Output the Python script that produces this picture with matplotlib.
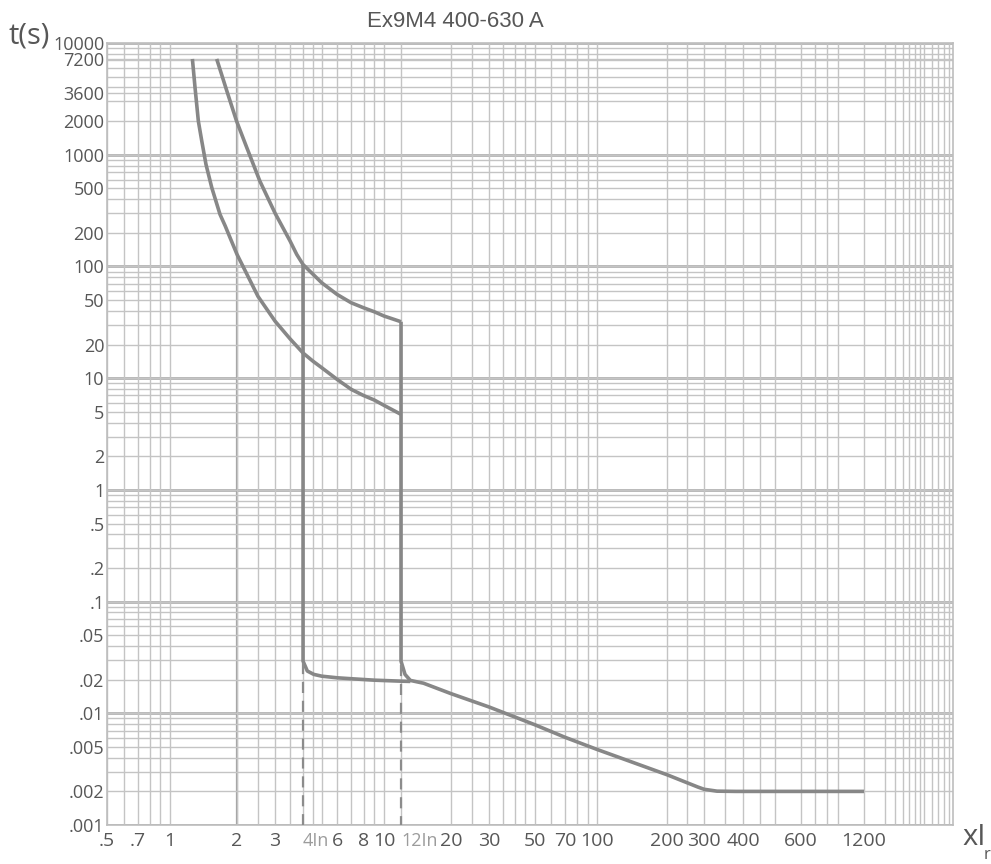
import numpy as np
import matplotlib.pyplot as plt
from matplotlib.ticker import FixedLocator, LogLocator, NullFormatter

# Thermal band, lower (no-trip) curve
lower_x = [1.26, 1.295, 1.34, 1.388, 1.45, 1.54, 1.677, 1.77, 1.86, 2.0, 2.5, 3.0, 3.5, 4.0, 4.5, 5.0, 6.0, 7.0, 8.0, 9.0, 10.0, 12.0]
lower_t = [7200, 3980, 2000, 1330, 820, 507, 292, 230, 181, 128, 54, 32.4, 22.5, 16.8, 14.2, 12.4, 9.76, 7.94, 7.0, 6.37, 5.71, 4.74]

# Thermal band, upper (trip) curve
upper_x = [1.62, 1.80, 1.99, 2.22, 2.55, 3.0, 3.5, 3.75, 4.0, 5.0, 6.0, 7.0, 8.0, 9.0, 10.0, 12.0]
upper_t = [7200, 3714, 2000, 1155, 582, 300, 169, 128, 104, 71.4, 56.2, 47.3, 42.7, 39.3, 36, 32]

# Magnetic trip at 12In, then the instantaneous region
mag12_x = [12.0, 12.0, 12.5, 13.2, 15.1, 20, 30, 50, 70, 100, 200, 280, 300, 330, 380, 1200]
mag12_t = [32, 0.0293, 0.0223, 0.0197, 0.0186, 0.0150, 0.0114, 0.0079, 0.0061, 0.00475, 0.00282,
           0.00219, 0.00209, 0.00201, 0.002, 0.002]

# Magnetic trip at 4In
mag4_x = [4.0, 4.0, 4.21, 4.55, 5.0, 6.0, 7.0, 9.0, 12.0, 13.2]
mag4_t = [104, 0.0293, 0.0239, 0.0223, 0.0215, 0.0208, 0.0204, 0.0198, 0.0194, 0.0193]

# Dashed markers for the magnetic settings
dash_x = [4.0, 12.0]
dash_top = [0.028, 0.027]

x_ticks = [0.5, 0.7, 1, 2, 3, 4, 6, 8, 10, 12, 20, 30, 50, 70, 100, 200, 300, 400, 600, 1200]
x_labels = ['.5', '.7', '1', '2', '3', '4In', '6', '8', '10', '12In', '20', '30', '50', '70',
            '100', '200', '300', '400', '600', '1200']
y_ticks = [10000, 7200, 3600, 2000, 1000, 500, 200, 100, 50, 20, 10, 5, 2, 1,
           0.5, 0.2, 0.1, 0.05, 0.02, 0.01, 0.005, 0.002, 0.001]
y_labels = ['10000', '7200', '3600', '2000', '1000', '500', '200', '100', '50', '20', '10', '5',
            '2', '1', '.5', '.2', '.1', '.05', '.02', '.01', '.005', '.002', '.001']

# the printed current axis is a hand-ruled log paper, not an exact log scale:
# anchor values and their share of the axis width
paper_vals = [0.5, 1, 2, 3, 4, 6, 10, 12, 20, 30, 100, 200, 300, 400, 600, 1200, 10000]
paper_frac = [0, 0.0745, 0.1537, 0.1986, 0.2317, 0.2719, 0.3274, 0.3475, 0.4066, 0.4515,
              0.5792, 0.6619, 0.7057, 0.7518, 0.8203, 0.8948, 1.0]
paper_log = np.log10(paper_vals)
slope_lo = (paper_frac[1] - paper_frac[0]) / (paper_log[1] - paper_log[0])
slope_hi = (paper_frac[-1] - paper_frac[-2]) / (paper_log[-1] - paper_log[-2])


def paper_fwd(x):
    lx = np.log10(np.clip(np.asarray(x, dtype=float), 1e-12, None))
    y = np.interp(lx, paper_log, paper_frac)
    y = np.where(lx < paper_log[0], paper_frac[0] + (lx - paper_log[0]) * slope_lo, y)
    y = np.where(lx > paper_log[-1], paper_frac[-1] + (lx - paper_log[-1]) * slope_hi, y)
    return y


def paper_inv(y):
    y = np.asarray(y, dtype=float)
    lx = np.interp(y, paper_frac, paper_log)
    lx = np.where(y < paper_frac[0], paper_log[0] + (y - paper_frac[0]) / slope_lo, lx)
    lx = np.where(y > paper_frac[-1], paper_log[-1] + (y - paper_frac[-1]) / slope_hi, lx)
    return 10 ** lx


curve_col = '#878787'
text_col = '#575757'
tick_font = ['Open Sans', 'DejaVu Sans']

fig = plt.figure(figsize=(9.91, 8.64), dpi=100)
ax = fig.add_axes([0.108, 0.0451, 0.8537, 0.9051])
ax.set_xscale('function', functions=(paper_fwd, paper_inv))
ax.set_yscale('log')
ax.set_xlim(0.5, 10000)
ax.set_ylim(0.001, 10000)

# grid like log paper
ax.xaxis.set_major_locator(FixedLocator(x_ticks))
ax.xaxis.set_minor_locator(LogLocator(base=10, subs=(2, 2.5, 3, 3.5, 4, 4.5, 5, 6, 7, 8, 9), numticks=30))
ax.yaxis.set_major_locator(FixedLocator(y_ticks))
ax.yaxis.set_minor_locator(LogLocator(base=10, subs=np.arange(2, 10), numticks=30))
ax.xaxis.set_minor_formatter(NullFormatter())
ax.yaxis.set_minor_formatter(NullFormatter())
ax.grid(True, which='both', color='#c4c4c4', lw=1.0)
for v in [1e-3, 1e-2, 1e-1, 1, 10, 100, 1000, 1e4]:
    ax.axhline(v, color='#a4a4a4', lw=1.8, zorder=1)
ax.axvline(2, color='#a0a0a0', lw=1.6, zorder=1)
for s in ax.spines.values():
    s.set_color('#bdbdbd')
    s.set_linewidth(1.2)

for xs, ts in [(lower_x, lower_t), (upper_x, upper_t), (mag12_x, mag12_t), (mag4_x, mag4_t)]:
    ax.plot(xs, ts, color=curve_col, lw=2.6, solid_joinstyle='round', solid_capstyle='butt', zorder=3)
for xv, tv in zip(dash_x, dash_top):
    ax.plot([xv, xv], [tv, 0.001], color='#8c8c8c', lw=1.6, ls=(0, (5, 3.5)), zorder=3)

ax.set_xticklabels(x_labels)
ax.set_yticklabels(y_labels)
ax.tick_params(which='both', length=0)
ax.tick_params(axis='x', pad=5)
ax.tick_params(axis='y', pad=2)
for lab in ax.get_xticklabels():
    lab.set_family(tick_font)
    lab.set_fontsize(14)
    lab.set_color(text_col)
    if 'In' in lab.get_text():
        lab.set_color('#9c9c9c')
        lab.set_fontsize(13)
        lab.set_ha('left')
for lab in ax.get_yticklabels():
    lab.set_family(tick_font)
    lab.set_fontsize(13)
    lab.set_color(text_col)
ax.get_yticklabels()[1].set_va('center_baseline')

fig.text(0.46, 0.975, 'Ex9M4 400-630 A', ha='center', va='center', color=text_col,
         family=['Liberation Sans', 'DejaVu Sans'], fontsize=16)
fig.text(0.009, 0.958, 't(s)', ha='left', va='center', color=text_col,
         family=tick_font, fontsize=21)
fig.text(0.971, 0.031, 'xI', ha='left', va='center', color=text_col,
         family=tick_font, fontsize=21)
fig.text(0.996, 0.010, 'r', ha='center', va='center', color=text_col,
         family=tick_font, fontsize=12)

fig.savefig('out.png', dpi=100)
